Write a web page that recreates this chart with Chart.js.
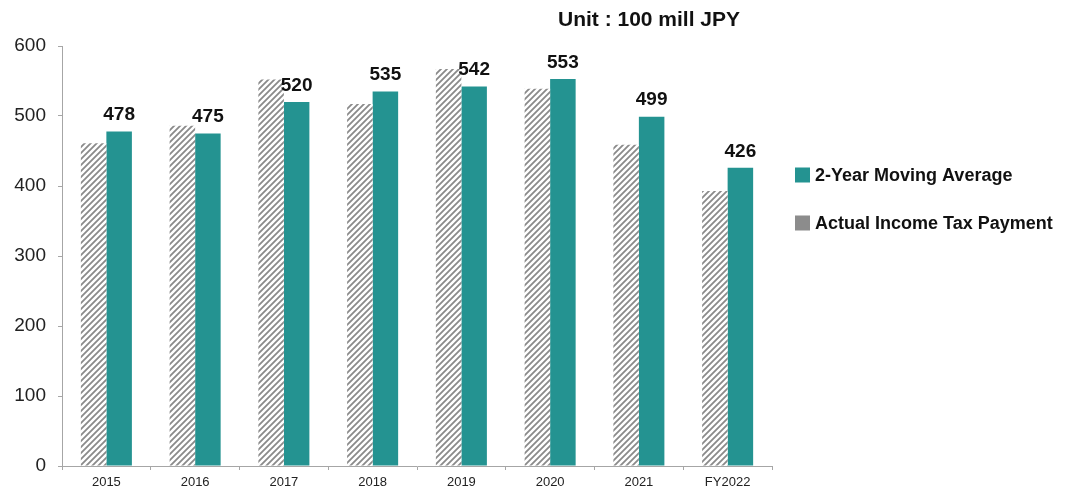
<!DOCTYPE html>
<html>
<head>
<meta charset="utf-8">
<script src="https://cdn.jsdelivr.net/npm/chart.js@4"></script>
<style>
  html, body { margin: 0; padding: 0; background: #fff; }
  #wrap { width: 1074px; height: 486px; }
</style>
</head>
<body>
<div id="wrap"><canvas id="taxChart" width="1074" height="486"></canvas></div>
<script>
// chart data
var years = ['2015', '2016', '2017', '2018', '2019', '2020', '2021', 'FY2022'];
var actualPayment = [461, 486, 552, 517, 567, 539, 459, 393];
var movingAverage = [478, 475, 520, 535, 542, 553, 499, 426];
var yTicks = [0, 100, 200, 300, 400, 500, 600];
var unitText = 'Unit : 100 mill JPY';
var legendNames = ['2-Year Moving Average', 'Actual Income Tax Payment'];

var TEAL = '#249391';
var GREY = '#8c8c8c';
var FONT = '"Liberation Sans", Arial, sans-serif';

// diagonal hatch for the actual payment bars
function makeHatch() {
  var c = document.createElement('canvas');
  c.width = 6; c.height = 6;
  var g = c.getContext('2d');
  g.fillStyle = '#fff';
  g.fillRect(0, 0, 6, 6);
  g.strokeStyle = '#8a8a8a';
  g.lineWidth = 1.8;
  g.beginPath();
  g.moveTo(0, 6); g.lineTo(6, 0);
  g.moveTo(-1, 1); g.lineTo(1, -1);
  g.moveTo(5, 7); g.lineTo(7, 5);
  g.stroke();
  return g.createPattern(c, 'repeat');
}

var extras = {
  id: 'extras',
  afterDraw: function(chart) {
    var ctx = chart.ctx;
    ctx.save();

    // unit caption
    ctx.fillStyle = '#111';
    ctx.font = 'bold 21px ' + FONT;
    ctx.textAlign = 'center';
    ctx.textBaseline = 'middle';
    ctx.fillText(unitText, 649, 20);

    // value labels over the moving average bars
    ctx.font = 'bold 19px ' + FONT;
    ctx.textBaseline = 'bottom';
    chart.getDatasetMeta(1).data.forEach(function(bar, i) {
      ctx.fillText(movingAverage[i], bar.x, bar.y - 7);
    });

    // legend (moving average first)
    var items = [[TEAL, legendNames[0]], [GREY, legendNames[1]]];
    ctx.font = 'bold 18px ' + FONT;
    ctx.textAlign = 'left';
    ctx.textBaseline = 'middle';
    items.forEach(function(it, i) {
      var cy = 175 + i * 48;
      ctx.fillStyle = it[0];
      ctx.fillRect(795, cy - 7.5, 15, 15);
      ctx.fillStyle = '#111';
      ctx.fillText(it[1], 815, cy + 1);
    });

    ctx.restore();
  }
};

var ctx = document.getElementById('taxChart');
var chart = new Chart(ctx, {
  type: 'bar',
  data: {
    labels: years,
    datasets: [{
      label: legendNames[1],
      data: actualPayment,
      backgroundColor: makeHatch(),
      borderWidth: 0,
      categoryPercentage: 0.575,
      barPercentage: 1.0
    }, {
      label: legendNames[0],
      data: movingAverage,
      backgroundColor: TEAL,
      borderWidth: 0,
      categoryPercentage: 0.575,
      barPercentage: 1.0
    }]
  },
  options: {
    responsive: false,
    animation: false,
    layout: { padding: { top: 46, right: 302, left: 0, bottom: 0 } },
    plugins: {
      legend: { display: false },
      tooltip: { enabled: false }
    },
    scales: {
      x: {
        grid: { display: true, drawOnChartArea: false, tickLength: 4, color: '#a6a6a6', offset: true },
        border: { color: '#a6a6a6' },
        ticks: { color: '#222', font: { family: FONT, size: 13 }, padding: 5, maxRotation: 0 },
        afterFit: function(s) { s.height = 20; s.paddingLeft = 0; s.paddingRight = 0; }
      },
      y: {
        min: 0,
        max: 600,
        afterBuildTicks: function(s) { s.ticks = yTicks.map(function(v) { return { value: v }; }); },
        grid: { display: true, drawOnChartArea: false, tickLength: 4, color: '#a6a6a6' },
        border: { color: '#a6a6a6' },
        ticks: { color: '#222', font: { family: FONT, size: 19 }, padding: 12 },
        afterFit: function(s) { s.width = 62; s.paddingTop = 0; s.paddingBottom = 0; }
      }
    }
  },
  plugins: [extras]
});
</script>
</body>
</html>
